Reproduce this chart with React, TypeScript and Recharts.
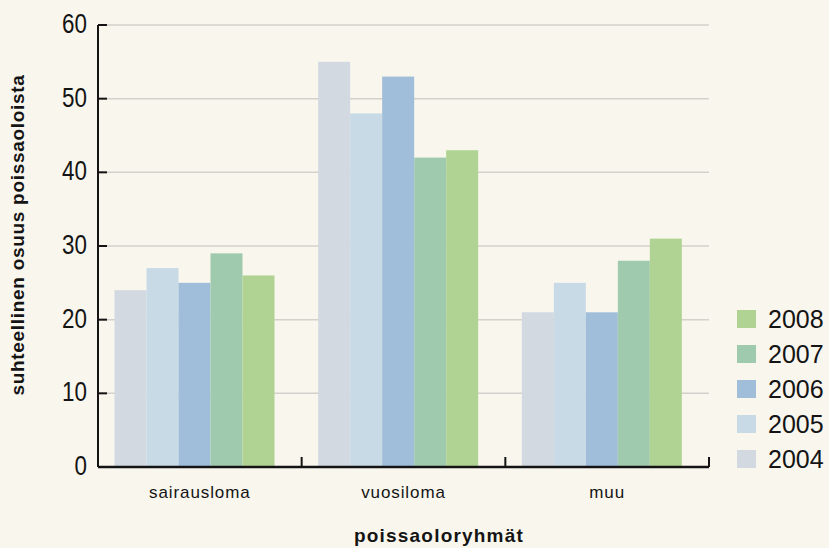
import React from 'react';
import { BarChart, Bar, XAxis, YAxis, CartesianGrid, Legend } from 'recharts';

const categories = ['sairausloma', 'vuosiloma', 'muu'];
const years = ['2004', '2005', '2006', '2007', '2008'];
const v2004 = [24, 55, 21];
const v2005 = [27, 48, 25];
const v2006 = [25, 53, 21];
const v2007 = [29, 42, 28];
const v2008 = [26, 43, 31];
const yTicks = [0, 10, 20, 30, 40, 50, 60];
const colors = ['#d2d9e1', '#c9dae7', '#a0bed9', '#a0caae', '#b0d394'];
const seriesValues = [v2004, v2005, v2006, v2007, v2008];

const data = categories.map((name, i) => {
  const row: any = { name };
  years.forEach((y, j) => {
    row[y] = seriesValues[j][i];
  });
  return row;
});

const FONT = '"Liberation Sans", Arial, Helvetica, sans-serif';
const INK = '#141414';
const BAR_SHIFT = -6.5;

const ShiftedBar = (props: any) => {
  const { x, y, width, height, fill } = props;
  if (!height || height <= 0) return null;
  return <rect x={x + BAR_SHIFT} y={y} width={width} height={height} fill={fill} />;
};

const XTick = (props: any) => {
  const { x, y, payload } = props;
  const half = payload && typeof payload.offset === 'number' && payload.offset > 0 ? payload.offset : 611 / 6;
  return (
    <g>
      <text x={x} y={y + 31} textAnchor="middle" fontSize={17} letterSpacing={0.9} fontFamily={FONT} fill={INK}>
        {payload.value}
      </text>
      <line x1={x + half} x2={x + half} y1={y - 10} y2={y} stroke={INK} strokeWidth={2} />
    </g>
  );
};

const YTick = (props: any) => {
  const { x, y, payload } = props;
  return (
    <g>
      <line x1={x + 11} x2={x + 20} y1={y} y2={y} stroke={INK} strokeWidth={2} />
      <g transform={`translate(${x},${y + 8})`}>
        <text transform="scale(0.8,1)" textAnchor="end" fontSize={28} fontFamily={FONT} fill={INK}>
          {payload.value}
        </text>
      </g>
    </g>
  );
};

const LegendContent = (props: any) => {
  const base =
    props.payload && props.payload.length
      ? props.payload.map((p: any) => ({ label: p.value, color: p.color }))
      : years.map((y, i) => ({ label: y, color: colors[i] }));
  const items = base.slice().reverse();
  return (
    <div>
      {items.map((it: any) => (
        <div key={it.label} style={{ display: 'flex', alignItems: 'center', height: 35 }}>
          <span style={{ width: 19, height: 18, background: it.color, display: 'inline-block' }} />
          <span style={{ marginLeft: 12, fontSize: 25, fontFamily: FONT, color: INK, lineHeight: '25px' }}>
            {it.label}
          </span>
        </div>
      ))}
    </div>
  );
};

export default function App() {
  return (
    <div style={{ position: 'fixed', left: 0, top: 0, width: 829, height: 548, background: '#f9f6ee' }}>
      <BarChart
        width={829}
        height={548}
        data={data}
        margin={{ top: 25, right: 120, bottom: 41, left: 0 }}
        barCategoryGap={23}
        barGap={0}
      >
        <CartesianGrid vertical={false} stroke="#d3d1cb" strokeWidth={1.5} />
        <XAxis
          dataKey="name"
          height={40}
          axisLine={{ stroke: INK, strokeWidth: 2.5 }}
          tickLine={false}
          tickSize={0}
          tickMargin={0}
          tick={<XTick />}
          interval={0}
          label={{
            content: () => (
              <text x={439} y={542} textAnchor="middle" fontSize={19} fontWeight="bold" letterSpacing={1.2} fontFamily={FONT} fill={INK}>
                poissaoloryhmät
              </text>
            ),
          }}
        />
        <YAxis
          width={98}
          domain={[0, 60]}
          ticks={yTicks}
          axisLine={{ stroke: INK, strokeWidth: 2 }}
          tickLine={false}
          tickSize={0}
          tickMargin={11}
          tick={<YTick />}
          label={{
            content: () => (
              <text
                transform="translate(24,235) rotate(-90)"
                textAnchor="middle"
                fontSize={19}
                fontWeight="bold"
                letterSpacing={0.7}
                fontFamily={FONT}
                fill={INK}
              >
                suhteellinen osuus poissaoloista
              </text>
            ),
          }}
        />
        <Legend
          layout="vertical"
          align="center"
          verticalAlign="middle"
          wrapperStyle={{ left: 737, top: 301.5, width: 92 }}
          content={<LegendContent />}
        />
        {years.map((y, i) => (
          <Bar key={y} dataKey={y} fill={colors[i]} isAnimationActive={false} shape={<ShiftedBar />} />
        ))}
      </BarChart>
    </div>
  );
}
